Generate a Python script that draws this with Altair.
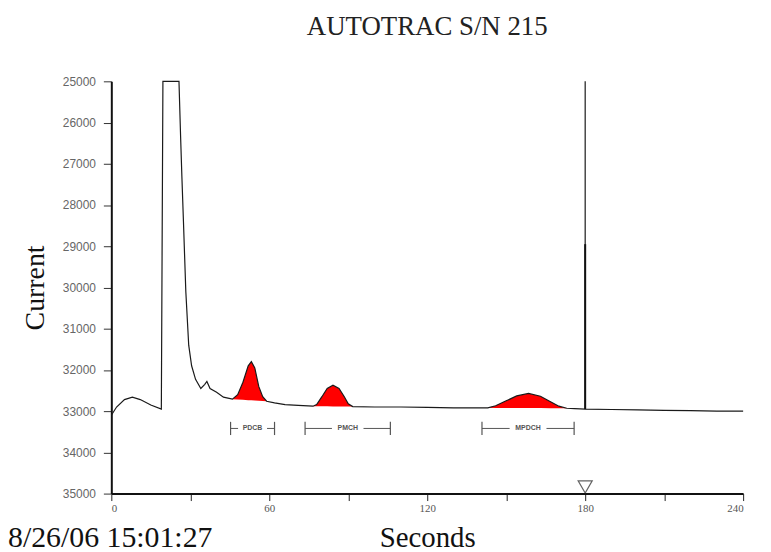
import altair as alt
import pandas as pd

# ---- data ----
time_s = [0, 2, 5, 8, 11, 15, 19, 19.6, 25.7, 26.3, 26.8, 27.4, 28.3, 29.4, 30.5, 32, 34, 35.5,
          36.3, 37.5, 40, 42.6, 46, 48, 50, 52, 53.2, 54.5, 56, 57.5, 59, 62, 66, 71, 76.6,
          78, 80, 82, 84.2, 86.5, 88.5, 90, 91.7, 100, 110, 120, 130, 140, 143,
          146, 150, 154, 158.5, 163, 167, 170, 173, 176, 180, 180, 180, 190, 200, 210,
          220, 230, 240]
current = [33100, 32900, 32720, 32660, 32720, 32850, 32950, 25000, 25000, 26300, 27300, 28400,
           30100, 31400, 31900, 32230, 32450, 32350, 32280, 32450, 32540, 32660, 32710,
           32600, 32300, 31900, 31800, 31950, 32400, 32650, 32760, 32800, 32840, 32860, 32880,
           32840, 32650, 32450, 32370, 32450, 32650, 32820, 32890, 32900, 32900, 32910, 32920,
           32920, 32920, 32870, 32750, 32630, 32570, 32640, 32780, 32880, 32930, 32940, 32950,
           25000, 32950, 32960, 32970, 32980, 32990, 33000, 33000]

peak_names = ["PDCB", "PMCH", "MPDCH"]
peak_start = [46, 76.6, 143]
peak_end = [59, 91.7, 173]

bracket_start = [45.3, 73.6, 140.8]
bracket_end = [62, 106, 175.8]
bracket_level = 33420
bracket_gap = [5.5, 6, 7]

spike_x = [180]
spike_low = [28950]
spike_high = [32950]

marker_x = [180]
marker_y = [34840]

x_ticks = [0, 30, 60, 90, 120, 150, 180, 210, 240]
y_ticks = [25000, 26000, 27000, 28000, 29000, 30000, 31000, 32000, 33000, 34000, 35000]

title_text = "AUTOTRAC S/N 215"
stamp_text = ["8/26/06 15:01:27"]

# ---- tables ----
curve = pd.DataFrame({"t": time_s, "c": current, "i": list(range(len(time_s)))})

rows = []
for name, s, e in zip(peak_names, peak_start, peak_end):
    seg = curve[(curve.t >= s) & (curve.t <= e)]
    c0 = seg.c.iloc[0]
    c1 = seg.c.iloc[-1]
    for t, c in zip(seg.t, seg.c):
        base = c0 + (c1 - c0) * (t - s) / (e - s)
        rows.append({"peak": name, "t": t, "c": c, "base": base})
peaks = pd.DataFrame(rows)

br = pd.DataFrame({
    "name": peak_names,
    "s": bracket_start,
    "e": bracket_end,
    "mid": [(a + b) / 2 for a, b in zip(bracket_start, bracket_end)],
    "g": bracket_gap,
    "lvl": [bracket_level] * 3,
    "lo": [bracket_level - 160] * 3,
    "hi": [bracket_level + 160] * 3,
})
br["gl"] = br["mid"] - br["g"]
br["gr"] = br["mid"] + br["g"]

spike = pd.DataFrame({"t": spike_x, "lo": spike_low, "hi": spike_high})
marker = pd.DataFrame({"t": marker_x, "c": marker_y})
stamp = pd.DataFrame({"txt": stamp_text})

W, H = 636, 415
SERIF = "Liberation Serif"

xscale = alt.Scale(domain=[0, 240], nice=False, zero=False)
yscale = alt.Scale(domain=[25000, 35000], reverse=True, nice=False, zero=False)

xaxis = alt.Axis(values=x_ticks, labelExpr="datum.value % 60 == 0 ? datum.label : ''",
                 title="Seconds", titleFont=SERIF, titleFontSize=29, titleFontWeight="normal",
                 titleColor="#111", titlePadding=10, labelFont=SERIF, labelFontSize=11,
                 labelColor="#555", tickSize=7, tickColor="#222", domainColor="#111",
                 domainWidth=2, grid=False, labelPadding=2)
yaxis = alt.Axis(values=y_ticks, format="d", title="Current", titleFont=SERIF,
                 titleFontSize=28, titleFontWeight="normal", titleColor="#111", titlePadding=13,
                 labelFont="Liberation Sans", labelFontSize=12, labelColor="#666",
                 tickSize=8, tickColor="#333", domainColor="#111", domainWidth=2, grid=False,
                 labelPadding=8)

area = alt.Chart(peaks).mark_area(color="#ff0000", opacity=1).encode(
    x=alt.X("t:Q", scale=xscale, axis=xaxis),
    y=alt.Y("c:Q", scale=yscale, axis=yaxis),
    y2="base:Q",
    detail="peak:N",
)

line = alt.Chart(curve).mark_line(color="#1a1a1a", strokeWidth=1.2).encode(
    x=alt.X("t:Q", scale=xscale),
    y=alt.Y("c:Q", scale=yscale),
    order="i:Q",
)

spike_rule = alt.Chart(spike).mark_rule(color="#111", strokeWidth=2).encode(
    x="t:Q", y="lo:Q", y2="hi:Q"
)

brc = alt.Chart(br)
left_seg = brc.mark_rule(color="#555", strokeWidth=1).encode(x="s:Q", x2="gl:Q", y="lvl:Q")
right_seg = brc.mark_rule(color="#555", strokeWidth=1).encode(x="gr:Q", x2="e:Q", y="lvl:Q")
cap_l = brc.mark_rule(color="#555", strokeWidth=1.2).encode(x="s:Q", y="lo:Q", y2="hi:Q")
cap_r = brc.mark_rule(color="#555", strokeWidth=1.2).encode(x="e:Q", y="lo:Q", y2="hi:Q")
br_text = brc.mark_text(font="Liberation Sans", fontSize=7, fontWeight="bold", color="#555",
                        baseline="middle").encode(x="mid:Q", y="lvl:Q", text="name:N")

tri = alt.Chart(marker).mark_point(shape="triangle-down", filled=False, size=200,
                                   color="#222", strokeWidth=1.2).encode(x="t:Q", y="c:Q")

stamp_mark = alt.Chart(stamp).mark_text(font=SERIF, fontSize=30, color="#111", align="left",
                                        baseline="alphabetic").encode(
    x=alt.value(-104), y=alt.value(H + 54), text="txt:N")

chart = alt.layer(area, line, spike_rule, left_seg, right_seg, cap_l, cap_r, br_text, tri,
                  stamp_mark).properties(
    width=W, height=H,
    title=alt.TitleParams(title_text, font=SERIF, fontSize=27, fontWeight="normal",
                          color="#222", anchor="middle", offset=35),
    autosize=alt.AutoSizeParams(type="none"),
    padding={"left": 104, "top": 72, "right": 20, "bottom": 57},
).configure(background="white", view=alt.ViewConfig(stroke=None))

chart.save("out.html", embed_options={"renderer": "svg", "actions": False})
